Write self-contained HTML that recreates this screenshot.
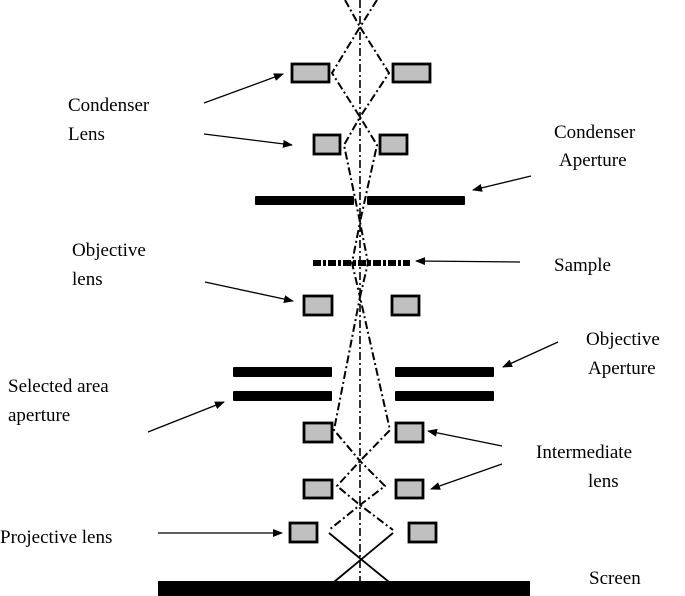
<!DOCTYPE html>
<html><head><style>
body{margin:0;background:#fff}
svg{display:block}
text{font-family:"Liberation Serif",serif;font-size:19px;fill:#000}
</style></head><body>
<svg width="685" height="596" viewBox="0 0 685 596">
<defs><marker id="a" markerWidth="10" markerHeight="8" refX="9" refY="4" orient="auto" markerUnits="userSpaceOnUse"><path d="M0,0L10,4L0,8z" fill="#000"/></marker></defs>
<g fill="#c0c0c0" stroke="#000" stroke-width="2.8">
<rect x="292" y="64" width="37" height="18"/><rect x="393" y="64" width="37" height="18"/>
<rect x="314" y="135" width="26" height="19"/><rect x="380" y="135" width="27" height="19"/>
<rect x="304" y="296" width="28" height="19"/><rect x="392" y="296" width="27" height="19"/>
<rect x="304" y="423" width="28" height="19"/><rect x="396" y="423" width="27" height="19"/>
<rect x="304" y="480" width="28" height="18"/><rect x="396" y="480" width="27" height="18"/>
<rect x="290" y="523" width="27" height="19"/><rect x="409" y="523" width="27" height="19"/>
</g>
<g fill="#000">
<rect x="255" y="196" width="99" height="9" rx="1"/><rect x="367" y="196" width="98" height="9" rx="1"/>
<rect x="233" y="367" width="99" height="10" rx="1"/><rect x="395" y="367" width="99" height="10" rx="1"/>
<rect x="233" y="391" width="99" height="10" rx="1"/><rect x="395" y="391" width="99" height="10" rx="1"/>
<rect x="158" y="581" width="372" height="15"/>
</g>
<line x1="313" y1="263" x2="410" y2="263" stroke="#000" stroke-width="6" stroke-dasharray="8,2,3,2"/>
<g stroke="#000" stroke-width="1.6" fill="none" stroke-dasharray="8,3,2,3">
<line x1="360" y1="0" x2="360" y2="582"/>
</g>
<g stroke="#000" stroke-width="2" fill="none" stroke-dasharray="8,3,2,3">
<polyline points="345,0 360,27 332,73 360,117 344,145 360,222 352,263 360,297 334,430 360,461 385,486 360,505 329,530"/>
<polyline points="377,0 360,27 389,73 360,117 377,145 360,222 368,263 360,297 390,430 360,461 337,486 360,505 393,530"/>
</g>
<g stroke="#000" stroke-width="1.8">
<line x1="329" y1="533" x2="389" y2="582"/><line x1="393" y1="533" x2="334" y2="582"/>
</g>
<g stroke="#000" stroke-width="1.3" marker-end="url(#a)">
<line x1="204" y1="103" x2="283" y2="74"/>
<line x1="204" y1="134" x2="292" y2="145"/>
<line x1="531" y1="176" x2="473" y2="190"/>
<line x1="520" y1="262" x2="416" y2="261"/>
<line x1="205" y1="282" x2="293" y2="301"/>
<line x1="558" y1="342" x2="503" y2="367"/>
<line x1="148" y1="432" x2="224" y2="402"/>
<line x1="502" y1="446" x2="428" y2="431"/>
<line x1="502" y1="464" x2="431" y2="489"/>
<line x1="158" y1="533" x2="282" y2="533"/>
</g>
<text x="68" y="111">Condenser</text>
<text x="68" y="140">Lens</text>
<text x="554" y="138">Condenser</text>
<text x="559" y="166">Aperture</text>
<text x="72" y="256">Objective</text>
<text x="72" y="285">lens</text>
<text x="554" y="271">Sample</text>
<text x="586" y="345">Objective</text>
<text x="588" y="374">Aperture</text>
<text x="8" y="392">Selected area</text>
<text x="8" y="421">aperture</text>
<text x="536" y="458">Intermediate</text>
<text x="588" y="487">lens</text>
<text x="0" y="543">Projective lens</text>
<text x="589" y="584">Screen</text>
</svg>
</body></html>
